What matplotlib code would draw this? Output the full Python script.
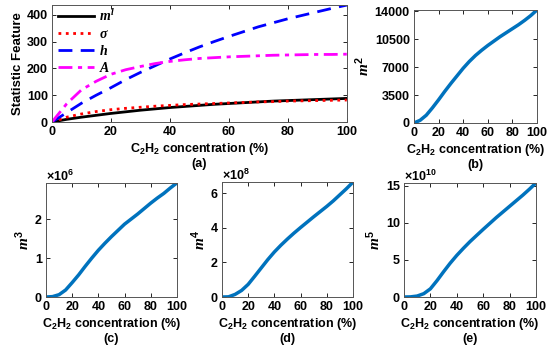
import numpy as np
import matplotlib
matplotlib.use("Agg")
import matplotlib.pyplot as plt
from matplotlib.ticker import FuncFormatter

plt.rcParams['font.family'] = ['Liberation Sans', 'DejaVu Sans']
plt.rcParams['font.weight'] = 'bold'
plt.rcParams['font.size'] = 9
plt.rcParams['mathtext.fontset'] = 'custom'
plt.rcParams['mathtext.rm'] = 'Liberation Sans:bold'
plt.rcParams['mathtext.bf'] = 'Liberation Sans:bold'
plt.rcParams['mathtext.it'] = 'Liberation Serif:italic:bold'
plt.rcParams['mathtext.default'] = 'rm'

# ---- data ----
conc = [0, 5, 10, 15, 20, 25, 30, 35, 40, 45, 50, 55, 60, 65, 70, 75, 80, 85, 90, 95, 100]
m1 = [0, 10, 18, 25, 32, 38, 44, 49, 54, 58, 62, 66, 69, 72, 75, 78, 80, 82, 84, 86, 88]
sigma = [0, 18, 30, 39, 46, 51, 55, 59, 62, 65, 67, 69, 71, 73, 75, 76, 78, 79, 80, 81, 82]
h = [0, 35, 70, 100, 128, 158, 185, 210, 235, 258, 280, 300, 319, 337, 355, 370, 385, 398, 411, 424, 436]
A = [0, 68, 120, 152, 178, 195, 207, 218, 226, 232, 237, 240, 243, 245, 247, 249, 250, 251, 252, 252, 253]

m2 = [0, 340, 975, 1900, 2900, 3950, 4950, 5900, 6850, 7700, 8450, 9100, 9700, 10250, 10800, 11300, 11800, 12300, 12850, 13450, 14150]
m3 = [0, 0.01, 0.06, 0.18, 0.37, 0.57, 0.79, 1.00, 1.20, 1.38, 1.55, 1.71, 1.87, 2.00, 2.13, 2.27, 2.41, 2.54, 2.66, 2.80, 2.93]   # x1e6
m4 = [0, 0.01, 0.15, 0.38, 0.73, 1.20, 1.68, 2.16, 2.60, 2.99, 3.35, 3.69, 4.01, 4.32, 4.63, 4.93, 5.23, 5.55, 5.90, 6.25, 6.63]  # x1e8
m5 = [0, 0.02, 0.13, 0.45, 1.10, 2.20, 3.40, 4.55, 5.60, 6.55, 7.45, 8.28, 9.10, 9.90, 10.70, 11.45, 12.20, 12.95, 13.70, 14.50, 15.35]  # x1e10

xticks = [0, 20, 40, 60, 80, 100]
yticks_a = [0, 100, 200, 300, 400]
yticks_b = [0, 3500, 7000, 10500, 14000]
xlabel = "C$_2$H$_2$ concentration (%)"

blue = '#0072BD'

fig = plt.figure(figsize=(5.5, 3.5), dpi=100)

def style(ax):
    ax.tick_params(direction='in', top=True, right=True, length=3, width=0.6,
                   colors='black', labelsize=9, pad=3)
    for s in ax.spines.values():
        s.set_color('#555555')
        s.set_linewidth(0.7)

def setup_xlabel(ax, tag):
    ax.set_xlabel(xlabel, fontsize=9, fontweight='bold', labelpad=2)
    ax.annotate(tag, xy=(0.5, 0), xycoords=ax.xaxis.label, xytext=(0, -1),
                textcoords='offset points', ha='center', va='top',
                fontsize=9, fontweight='bold')

# (a)
axa = fig.add_axes([0.0945, 0.6514, 0.536, 0.334])
axa.plot(conc, m1, color='black', lw=2, ls='-', label=r'$\mathit{m}^{\mathit{l}}$')
axa.plot(conc, sigma, color='red', lw=2, ls=':', label=r'$\mathit{\sigma}$')
axa.plot(conc, h, color='blue', lw=2, ls=(0, (5, 3)), label=r'$\mathit{h}$')
axa.plot(conc, A, color='magenta', lw=2, ls=(0, (5, 2, 1.5, 2)), label=r'$\mathit{A}$')
axa.set_xlim(0, 100)
axa.set_ylim(0, max(h))
axa.set_xticks(xticks)
axa.set_yticks(yticks_a)
axa.set_ylabel('Statistic Feature', fontsize=9.5, fontweight='bold', labelpad=2)
setup_xlabel(axa, '(a)')
axa.legend(loc='upper left', bbox_to_anchor=(0.0, 1.03), frameon=False, fontsize=10,
           handlelength=2.6, labelspacing=0.22, borderaxespad=0.0, handletextpad=0.4)
style(axa)

# (b)
axb = fig.add_axes([0.7527, 0.6486, 0.2236, 0.323])
axb.plot(conc, m2, color=blue, lw=2.5)
axb.set_xlim(0, 100)
axb.set_ylim(0, max(m2))
axb.set_xticks(xticks)
axb.set_yticks(yticks_b)
axb.set_ylabel(r'$\mathit{m}^{2}$', fontsize=11, labelpad=2)
setup_xlabel(axb, '(b)')
style(axb)

def lower(rect, data, power, lab, tag, yt):
    ax = fig.add_axes(rect)
    scale = 10.0 ** power
    vals = np.array(data) * scale
    ax.plot(conc, vals, color=blue, lw=2.5)
    ax.set_xlim(0, 100)
    ax.set_ylim(0, vals.max())
    ax.set_xticks(xticks)
    ax.set_yticks(np.array(yt) * scale)
    ax.yaxis.set_major_formatter(FuncFormatter(lambda v, p, s=scale: f"{v / s:g}"))
    ax.annotate(r'$\times$10$^{%d}$' % power, xy=(0.0, 1.0), xycoords='axes fraction',
                xytext=(0, 1.5), textcoords='offset points',
                ha='left', va='baseline', fontsize=9)
    ax.set_ylabel(lab, fontsize=11, labelpad=2)
    setup_xlabel(ax, tag)
    style(ax)
    return ax

lower([0.0836, 0.1514, 0.238, 0.326], m3, 6, r'$\mathit{m}^{3}$', '(c)', [0, 1, 2])
lower([0.4036, 0.1514, 0.238, 0.328], m4, 8, r'$\mathit{m}^{4}$', '(d)', [0, 2, 4, 6])
lower([0.7345, 0.1514, 0.240, 0.326], m5, 10, r'$\mathit{m}^{5}$', '(e)', [0, 5, 10, 15])

fig.savefig('out.png', dpi=100)
